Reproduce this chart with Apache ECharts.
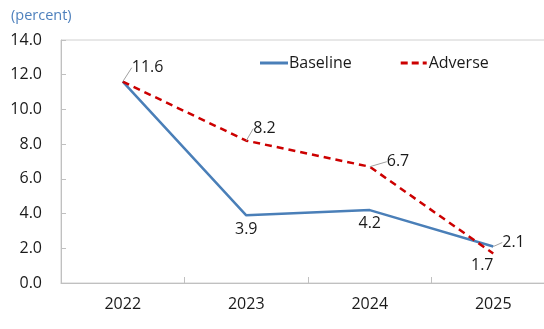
<!DOCTYPE html>
<html><head><meta charset="utf-8">
<script src="https://cdn.jsdelivr.net/npm/echarts@6/dist/echarts.min.js"></script>
<style>html,body{margin:0;padding:0;background:#fff}#c{width:544px;height:329px}</style>
</head><body><div id="c"></div>
<script>
var years = ['2022', '2023', '2024', '2025'];
var baseline = [11.6, 3.9, 4.2, 2.1];
var adverse = [11.6, 8.2, 6.7, 1.7];
var yTicks = [0, 2, 4, 6, 8, 10, 12, 14];

var FONT = '"Open Sans", "Noto Sans", sans-serif';
var chart = echarts.init(document.getElementById('c'));

// label placement: [position, dx, dy, leaderLine]
var baseLab = [null, ['bottom', 0, 1, false], ['bottom', 0, 0, false], ['right', 4, -4, true]];
var advLab = [['right', 4, -14, true], ['right', 2, -12, true], ['right', 12, -5, true], ['bottom', -11, -1, false]];

function mk(vals, labs) {
  return vals.map(function (v, i) {
    var l = labs[i];
    if (!l) return { value: v, label: { show: false }, labelLine: { show: false } };
    return { value: v, label: { show: true, position: l[0] }, labelLine: { show: l[3] } };
  });
}
function layoutFor(labs) {
  return function (p) {
    var l = labs[p.dataIndex];
    if (!l) return {};
    return { dx: l[1], dy: l[2] };
  };
}
var labelStyle = { color: '#1a1a1a', fontSize: 16, fontFamily: FONT, distance: 5,
  formatter: function (p) { return p.value.toFixed(1); } };

chart.setOption({
  animation: false,
  textStyle: { fontFamily: FONT },
  title: { text: '(percent)', left: 6, top: 3,
    textStyle: { color: '#4f81bd', fontSize: 14.5, fontWeight: 'normal', fontFamily: FONT } },
  legend: {
    left: 255, top: 50, itemWidth: 28, itemHeight: 3, itemGap: 49,
    textStyle: { color: '#1a1a1a', fontSize: 16, fontFamily: FONT, padding: [0, 0, 0, -4] },
    data: [
      { name: 'Baseline', icon: 'path://M0,0h28v3h-28z' },
      { name: 'Adverse', icon: 'path://M0,0h7v3h-7zM11,0h7v3h-7zM22,0h4v3h-4z' }
    ]
  },
  grid: { left: 61, top: 40, width: 494, bottom: 46, show: true, borderColor: '#d0d0d0', borderWidth: 1,
    outerBoundsMode: 'none', containLabel: false },
  xAxis: {
    type: 'category', data: years, boundaryGap: true,
    axisLine: { lineStyle: { color: '#c0c0c0', width: 1 } },
    axisTick: { show: true, inside: true, length: 6, lineStyle: { color: '#c0c0c0' } },
    axisLabel: { color: '#1a1a1a', fontSize: 16, fontFamily: FONT, margin: 13 }
  },
  yAxis: {
    type: 'value', min: 0, max: 14, interval: 2,
    axisLine: { show: true, lineStyle: { color: '#c0c0c0', width: 1 } },
    axisTick: { show: true, inside: true, length: 5, lineStyle: { color: '#c0c0c0' } },
    splitLine: { show: false },
    axisLabel: { color: '#1a1a1a', fontSize: 16, fontFamily: FONT, margin: 19,
      formatter: function (v) { return yTicks.indexOf(v) >= 0 ? v.toFixed(1) : ''; } }
  },
  series: [
    {
      name: 'Baseline', type: 'line', data: mk(baseline, baseLab),
      symbol: 'circle', symbolSize: 0.01, itemStyle: { color: '#4a7fb8' },
      lineStyle: { color: '#4a7fb8', width: 2.5 },
      label: labelStyle,
      labelLine: { show: true, lineStyle: { color: '#a0a0a0', width: 1 } },
      labelLayout: layoutFor(baseLab), z: 2
    },
    {
      name: 'Adverse', type: 'line', data: mk(adverse, advLab),
      symbol: 'circle', symbolSize: 0.01, itemStyle: { color: '#cc0000' },
      lineStyle: { color: '#cc0000', width: 2.5, type: [7, 5] },
      label: labelStyle,
      labelLine: { show: true, lineStyle: { color: '#a0a0a0', width: 1 } },
      labelLayout: layoutFor(advLab), z: 3
    }
  ]
});
</script></body></html>
